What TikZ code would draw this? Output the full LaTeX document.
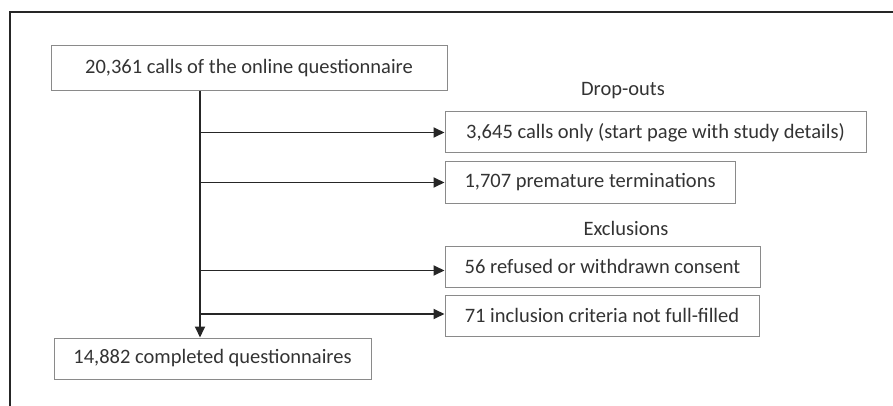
\documentclass[tikz,border=0pt]{standalone}
\usepackage{fontspec}
\setmainfont{Carlito}
\usetikzlibrary{arrows.meta}
\definecolor{txtgray}{HTML}{333333}
\definecolor{boxgray}{HTML}{8A8A8A}
\tikzset{
  stage/.style={draw=boxgray,line width=1pt,text=txtgray,inner sep=0pt,
    minimum height=41pt,font=\fontsize{20.5}{24}\selectfont},
  heading/.style={text=txtgray,font=\fontsize{20.5}{24}\selectfont},
  flow/.style={line width=1.8pt,draw=black!85,
    -{Triangle[length=11pt,width=10pt]}},
}

\begin{document}
\begin{tikzpicture}[x=1pt,y=-1pt]
    \useasboundingbox (0,0) rectangle (893,406);
    % frame
    \draw[line width=1.3pt,black!85] (10,406) -- (10,12) -- (893,12);
    \node[stage,minimum width=396pt,minimum height=45pt] (calls) at (249,68.5) {20,361 calls of the online questionnaire};
    \node[heading] (dropout) at (623,91) {Drop-outs};
    \node[stage,minimum width=421pt] (startpage) at (655.5,132.5) {3,645 calls only (start page with study details)};
    \node[stage,minimum width=290pt] (premature) at (590,182.5) {1,707 premature terminations};
    \node[heading] (exclusion) at (626,228) {Exclusions};
    \node[stage,minimum width=315pt] (consent) at (602.5,266.5) {56 refused or withdrawn consent};
    \node[stage,minimum width=314pt] (criteria) at (602,315.5) {71 inclusion criteria not full-filled};
    \node[stage,minimum width=317pt] (completed) at (212.5,358.5) {14,882 completed questionnaires};
    \coordinate (split) at (200,91);
    \coordinate (consentin) at ([yshift=-4pt]consent.west);
    \coordinate (criteriain) at ([yshift=1.5pt]criteria.west);
    \draw[flow] (split) -- (split |- completed.north);
    \draw[flow] (split |- startpage) -- (startpage.west);
    \draw[flow] (split |- premature) -- (premature.west);
    \draw[flow] (split |- consentin) -- (consentin);
    \draw[flow] (split |- criteriain) -- (criteriain);
  \end{tikzpicture}
\end{document}
